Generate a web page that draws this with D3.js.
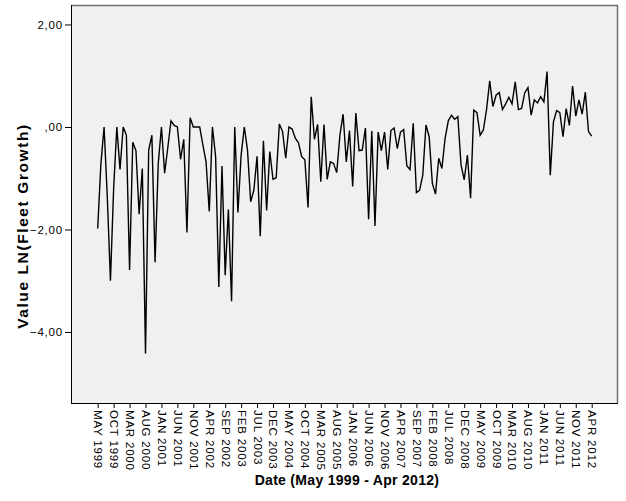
<!DOCTYPE html>
<html>
<head>
<meta charset="utf-8">
<script src="https://cdn.jsdelivr.net/npm/d3@7"></script>
<style>
    body { margin: 0; background: #fff; }
    text { font-family: Arial, 'Liberation Sans', sans-serif; }
</style>
</head>
<body>
<script>

// LN(Fleet Growth), one value per month, May 1999 - Apr 2012
var values = [
    -1.98, -0.72, 0.00, -1.35, -3.00, -1.20, 0.00, -0.83, 0.00, -0.16,
    -2.79, -0.30, -0.46, -1.70, -0.81, -4.42, -0.45, -0.16, -2.64, -0.71,
    0.00, -0.90, -0.40, 0.12, 0.03, 0.00, -0.63, -0.24, -2.06, 0.18,
    0.00, 0.00, 0.00, -0.35, -0.68, -1.65, 0.00, -0.58, -3.12, -0.76,
    -2.89, -1.61, -3.40, 0.00, -1.67, -0.55, 0.00, -0.45, -1.46, -1.23,
    -0.57, -2.13, -0.27, -1.63, -0.48, -1.02, -0.99, 0.06, -0.09, -0.61,
    0.00, -0.04, -0.22, -0.31, -0.58, -0.64, -1.57, 0.59, -0.24, 0.05,
    -1.07, 0.05, -1.02, -0.68, -0.71, -0.89, -0.16, 0.25, -0.68, -0.07,
    -1.16, 0.27, -0.46, -0.45, -0.02, -1.80, -0.08, -1.93, -0.10, -0.46,
    -0.10, -0.83, -0.07, -0.02, -0.42, -0.10, -0.05, -0.76, -0.83, 0.07,
    -1.28, -1.23, -0.94, 0.04, -0.19, -1.10, -1.31, -0.61, -0.81, -0.22,
    0.12, 0.23, 0.15, 0.20, -0.74, -1.03, -0.55, -1.39, 0.33, 0.28,
    -0.16, -0.06, 0.34, 0.90, 0.40, 0.62, 0.67, 0.34, 0.45, 0.58,
    0.45, 0.88, 0.34, 0.36, 0.67, 0.77, 0.23, 0.53, 0.47, 0.59,
    0.49, 1.08, -0.94, 0.10, 0.32, 0.28, -0.19, 0.36, 0.03, 0.80,
    0.21, 0.53, 0.25, 0.68, -0.09, -0.18
]

// one label every 5 months
var tickLabels = [
    'MAY 1999', 'OCT 1999', 'MAR 2000', 'AUG 2000', 'JAN 2001', 'JUN 2001',
    'NOV 2001', 'APR 2002', 'SEP 2002', 'FEB 2003', 'JUL 2003', 'DEC 2003',
    'MAY 2004', 'OCT 2004', 'MAR 2005', 'AUG 2005', 'JAN 2006', 'JUN 2006',
    'NOV 2006', 'APR 2007', 'SEP 2007', 'FEB 2008', 'JUL 2008', 'DEC 2008',
    'MAY 2009', 'OCT 2009', 'MAR 2010', 'AUG 2010', 'JAN 2011', 'JUN 2011',
    'NOV 2011', 'APR 2012'
]
var tickStep = 5

var yTickValues = [-4, -2, 0, 2]

var xTitle = 'Date (May 1999 - Apr 2012)'
var yTitle = 'Value LN(Fleet Growth)'

var width = 626
var height = 501

var plotLeft = 71
var plotRight = 618
var plotTop = 5
var plotBottom = 403

var svg = d3.select('body')
            .append('svg')
                .attr('width', width)
                .attr('height', height)

// plot background
svg.append('rect')
        .attr('x', plotLeft)
        .attr('y', plotTop)
        .attr('width', plotRight - plotLeft)
        .attr('height', plotBottom - plotTop)
        .attr('fill', '#f0f0f0')

var xscale = d3.scaleLinear().domain([0, values.length - 1]).range([97.7, 591.7])
var yscale = d3.scaleLinear().domain([-5.385, 2.38]).range([plotBottom, plotTop])

function commaFormat(v) {
    var s = d3.format('.2f')(v).replace('.', ',')
    if (s.indexOf('0,') == 0) { s = s.substring(1) }
    return s
}

// top and right frame lines
svg.append('path')
        .attr('d', 'M' + plotLeft + ',' + (plotTop + 0.5) + 'H' + (plotRight - 0.5) + 'V' + plotBottom)
        .attr('fill', 'none')
        .attr('stroke', '#6e6e6e')
        .attr('stroke-width', 1.5)

// line
var line = d3.line()
                .x((d, i) => xscale(i))
                .y(d => yscale(d))

svg.append('path')
        .datum(values)
        .attr('d', line)
        .attr('fill', 'none')
        .attr('stroke', '#000')
        .attr('stroke-width', 1.4)
        .attr('stroke-linejoin', 'miter')

// axes
var xTickValues = []
for (var i = 0; i < tickLabels.length; i++) { xTickValues.push(i * tickStep) }

var x_axis = d3.axisBottom(xscale)
                .tickValues(xTickValues)
                .tickFormat((v, i) => tickLabels[i])
                .tickSizeInner(5)
                .tickSizeOuter(0)

var y_axis = d3.axisLeft(yscale)
                .tickValues(yTickValues)
                .tickFormat(commaFormat)
                .tickSizeInner(6)
                .tickSizeOuter(0)

var gx = svg.append('g')
                .attr('transform', 'translate(0,' + plotBottom + ')')
                .call(x_axis)

gx.select('.domain').attr('d', 'M' + plotLeft + ',0.5H' + plotRight)

gx.selectAll('.tick text')
        .attr('transform', 'rotate(90)')
        .attr('x', 7)
        .attr('y', 0)
        .attr('dy', '0.35em')
        .style('text-anchor', 'start')
        .style('font-size', '11.5px')
        .style('letter-spacing', '0.8px')
        .attr('fill', '#000')

var gy = svg.append('g')
                .attr('transform', 'translate(' + plotLeft + ',0)')
                .call(y_axis)

gy.select('.domain').attr('d', 'M0.5,' + plotTop + 'V' + plotBottom)

gy.selectAll('.tick text')
        .attr('x', -8)
        .style('font-size', '11.5px')
        .style('letter-spacing', '0.8px')
        .attr('fill', '#000')

// axis titles
svg.append('text')
        .attr('x', 347)
        .attr('y', 485)
        .attr('text-anchor', 'middle')
        .style('font-size', '14px')
        .style('font-weight', 'bold')
        .style('letter-spacing', '0.3px')
        .text(xTitle)

svg.append('text')
        .attr('transform', 'translate(28,226) rotate(-90)')
        .attr('text-anchor', 'middle')
        .style('font-size', '15.5px')
        .style('font-weight', 'bold')
        .style('letter-spacing', '1.6px')
        .text(yTitle)

</script>
</body>
</html>
